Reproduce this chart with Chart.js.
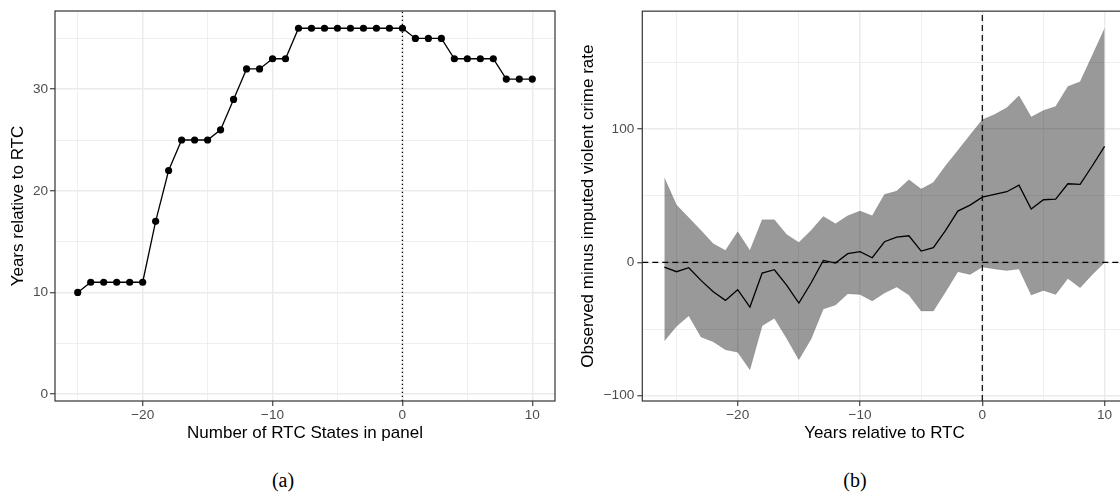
<!DOCTYPE html>
<html>
<head>
<meta charset="utf-8">
<script src="https://cdn.jsdelivr.net/npm/chart.js@4"></script>
<style>
  html, body { margin: 0; padding: 0; background: #fff; width: 1120px; height: 494px; overflow: hidden; }
  .wrap { position: absolute; top: 0; width: 560px; height: 450px; }
  #wrapA { left: 0; }
  #wrapB { left: 570px; }
  .cap { position: absolute; top: 470px; line-height: 20px; font-family: "Liberation Serif", "DejaVu Serif", serif; font-size: 20px; color: #000; transform: translateX(-50%); }
</style>
</head>
<body>
<div class="wrap" id="wrapA"><canvas id="chartA" width="560" height="450"></canvas></div>
<div class="wrap" id="wrapB"><canvas id="chartB" width="560" height="450"></canvas></div>
<div class="cap" style="left:283px">(a)</div>
<div class="cap" style="left:855px">(b)</div>
<script>
// panel (a)
const statesX = [-25, -24, -23, -22, -21, -20, -19, -18, -17, -16, -15, -14, -13, -12, -11, -10, -9, -8,
  -7, -6, -5, -4, -3, -2, -1, 0, 1, 2, 3, 4, 5, 6, 7, 8, 9, 10];
const statesY = [10, 11, 11, 11, 11, 11, 17, 22, 25, 25, 25, 26, 29, 32, 32, 33, 33, 36,
  36, 36, 36, 36, 36, 36, 36, 36, 35, 35, 35, 33, 33, 33, 33, 31, 31, 31];

// panel (b)
const years = [-26, -25, -24, -23, -22, -21, -20, -19, -18, -17, -16, -15, -14, -13, -12, -11, -10, -9,
  -8, -7, -6, -5, -4, -3, -2, -1, 0, 1, 2, 3, 4, 5, 6, 7, 8, 9, 10];
const upperCI = [63.5, 43, 33.5, 24, 14, 9, 23, 9, 32, 32, 21, 15, 24, 34.5, 29, 35, 38.5, 35,
  51, 53.5, 62, 55, 60, 72.5, 84, 95.5, 107, 111, 116, 125, 109, 114, 117, 132, 135.5, 155.5, 175.5];
const meanDiff = [-3.5, -7, -4, -13.5, -22, -28.5, -20.5, -33.5, -8, -5.5, -17, -30.5, -15.5, 1.5, -0.5, 6.5, 8, 3.5,
  15.5, 19, 20, 8.5, 11, 24, 38.5, 43, 49, 51, 53, 58, 40, 47, 47.5, 59, 58.5, 72.5, 87];
const lowerCI = [-59, -48, -40, -56, -59.5, -65.5, -67.5, -80.5, -47.5, -42, -57, -73, -57.5, -35, -32, -23.5, -24, -29,
  -23, -18.5, -24.5, -36.5, -36.5, -22, -7, -9, -3.5, -5, -6, -5, -24.5, -21, -24, -12, -19, -9, 0];

// axis limits
const axA = { xMin: -26.75, xMax: 11.75, yMin: -0.69, yMax: 37.7 };
const axB = { xMin: -27.8, xMax: 11.8, yMin: -104, yMax: 188.5 };

Chart.defaults.font.family = "'Liberation Sans', Arial, sans-serif";
Chart.defaults.color = '#4d4d4d';

const fmt = v => (v < 0 ? '\u2212' + Math.abs(v) : String(v));

const panelBorder = {
  id: 'panelBorder',
  afterDraw(chart) {
    const { ctx, chartArea: a } = chart;
    ctx.save();
    ctx.strokeStyle = '#333';
    ctx.lineWidth = 1.2;
    ctx.strokeRect(a.left, a.top, a.right - a.left, a.bottom - a.top);
    ctx.restore();
  }
};

function makeAxis(min, max, step, major, title, isY, yWidth, xHeight, padTick) {
  return {
    type: 'linear',
    min: min,
    max: max,
    afterFit: s => { if (isY) s.width = yWidth; else s.height = xHeight; },
    border: { display: false },
    grid: {
      color: '#ebebeb',
      lineWidth: c => (c.tick && c.tick.value % major === 0 ? 1.5 : 0.8),
      tickColor: c => (c.tick && c.tick.value % major === 0 ? '#333' : 'rgba(0,0,0,0)'),
      tickLength: 5,
      tickWidth: 1.1
    },
    ticks: {
      stepSize: step,
      includeBounds: false,
      autoSkip: false,
      maxRotation: 0,
      padding: padTick,
      color: '#4d4d4d',
      font: { size: 13.6 },
      callback: v => (v % major === 0 ? fmt(v) : '')
    },
    title: {
      display: true,
      text: title,
      color: '#000',
      font: { size: 17 },
      padding: isY ? { top: 8.5, bottom: 0 } : { top: 0, bottom: 6.8 }
    }
  };
}

// (a)
new Chart(document.getElementById('chartA'), {
  type: 'line',
  data: {
    datasets: [
      {
        data: statesX.map((x, i) => ({ x: x, y: statesY[i] })),
        borderColor: '#000',
        backgroundColor: '#000',
        borderWidth: 1.3,
        pointRadius: 3.6,
        pointBorderWidth: 0,
        tension: 0
      },
      {
        data: [{ x: 0, y: axA.yMin }, { x: 0, y: axA.yMax }],
        borderColor: '#000',
        borderWidth: 1.3,
        borderDash: [1.3, 2.7],
        pointRadius: 0
      }
    ]
  },
  options: {
    responsive: false,
    animation: false,
    events: [],
    layout: { padding: { top: 11, right: 5, left: 0, bottom: 0 } },
    plugins: { legend: { display: false }, tooltip: { enabled: false } },
    scales: {
      x: makeAxis(axA.xMin, axA.xMax, 5, 10, 'Number of RTC States in panel', false, 0, 49, 1),
      y: makeAxis(axA.yMin, axA.yMax, 5, 10, 'Years relative to RTC', true, 55, 0, 2)
    }
  },
  plugins: [panelBorder]
});

// (b)
new Chart(document.getElementById('chartB'), {
  type: 'line',
  data: {
    datasets: [
      {
        data: years.map((x, i) => ({ x: x, y: meanDiff[i] })),
        borderColor: '#000',
        borderWidth: 1.3,
        pointRadius: 0,
        tension: 0
      },
      {
        data: [{ x: axB.xMin, y: 0 }, { x: axB.xMax, y: 0 }],
        borderColor: '#000',
        borderWidth: 1.2,
        borderDash: [6, 4],
        pointRadius: 0
      },
      {
        data: [{ x: 0, y: axB.yMin }, { x: 0, y: axB.yMax }],
        borderColor: '#000',
        borderWidth: 1.2,
        borderDash: [6, 4],
        pointRadius: 0
      },
      {
        data: years.map((x, i) => ({ x: x, y: upperCI[i] })),
        borderColor: 'rgba(0,0,0,0.12)',
        borderWidth: 1,
        backgroundColor: 'rgba(0,0,0,0.4)',
        fill: '+1',
        pointRadius: 0,
        tension: 0
      },
      {
        data: years.map((x, i) => ({ x: x, y: lowerCI[i] })),
        borderColor: 'rgba(0,0,0,0.12)',
        borderWidth: 1,
        fill: false,
        pointRadius: 0,
        tension: 0
      }
    ]
  },
  options: {
    responsive: false,
    animation: false,
    events: [],
    layout: { padding: { top: 11, right: 3.4, left: 0, bottom: 0 } },
    plugins: { legend: { display: false }, tooltip: { enabled: false } },
    scales: {
      x: makeAxis(axB.xMin, axB.xMax, 5, 10, 'Years relative to RTC', false, 0, 49, 1),
      y: makeAxis(axB.yMin, axB.yMax, 50, 100, 'Observed minus imputed violent crime rate', true, 72.3, 0, 3)
    }
  },
  plugins: [panelBorder]
});
</script>
</body>
</html>
